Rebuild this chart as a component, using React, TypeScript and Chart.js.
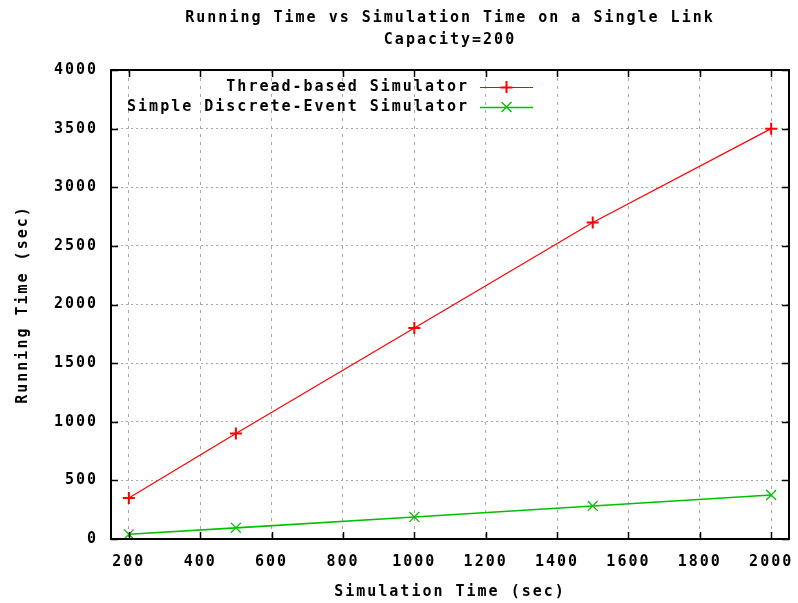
import React, { useEffect, useRef } from "react";
import { Chart, registerables } from "chart.js";

Chart.register(...registerables);

const simTimes = [200, 500, 1000, 1500, 2000];
const threadBased = [350, 900, 1800, 2700, 3500];
const simpleDES = [40, 95, 188, 282, 375];
const xTickValues = [200, 400, 600, 800, 1000, 1200, 1400, 1600, 1800, 2000];
const yTickValues = [0, 500, 1000, 1500, 2000, 2500, 3000, 3500, 4000];
const titleLines = ["Running Time vs Simulation Time on a Single Link", "Capacity=200"];
const xTitle = "Simulation Time (sec)";
const yTitle = "Running Time (sec)";
const seriesLabels = ["Thread-based Simulator", "Simple Discrete-Event Simulator"];
const seriesColors = ["#ff0000", "#00c000"];

const FONT_FAMILY = "'DejaVu Sans Mono', 'Liberation Mono', monospace";
const FONT = "bold 15px " + FONT_FAMILY;
const SPACING = "2px";

const gnuplotPlugin = {
  id: "gnuplotDecor",
  beforeDraw(chart: any) {
    (chart.ctx as any).letterSpacing = SPACING;
  },
  afterDraw(chart: any) {
    const ctx = chart.ctx as CanvasRenderingContext2D;
    const area = chart.chartArea;
    const xs = chart.scales.x;
    const ys = chart.scales.y;
    ctx.save();
    (ctx as any).letterSpacing = SPACING;
    ctx.setLineDash([]);
    // inward ticks + mirror
    ctx.strokeStyle = "#000";
    ctx.lineWidth = 1.5;
    ctx.beginPath();
    const tl = 7;
    xTickValues.forEach((v) => {
      const px = Math.round(xs.getPixelForValue(v)) + 0.5;
      ctx.moveTo(px, area.bottom);
      ctx.lineTo(px, area.bottom - tl);
      ctx.moveTo(px, area.top);
      ctx.lineTo(px, area.top + tl);
    });
    yTickValues.forEach((v) => {
      const py = Math.round(ys.getPixelForValue(v)) + 0.5;
      ctx.moveTo(area.left, py);
      ctx.lineTo(area.left + tl, py);
      ctx.moveTo(area.right, py);
      ctx.lineTo(area.right - tl, py);
    });
    ctx.stroke();
    // border
    ctx.lineWidth = 2;
    ctx.strokeRect(area.left, area.top, area.right - area.left, area.bottom - area.top);

    ctx.fillStyle = "#000";
    ctx.font = FONT;
    ctx.textBaseline = "middle";
    // title
    ctx.textAlign = "center";
    const cx = (area.left + area.right) / 2;
    ctx.fillText(titleLines[0], cx, 18);
    ctx.fillText(titleLines[1], cx, 40);
    // x title
    ctx.fillText(xTitle, cx, 592);
    // y title
    ctx.save();
    ctx.translate(23, (area.top + area.bottom) / 2);
    ctx.rotate(-Math.PI / 2);
    ctx.fillText(yTitle, 0, 0);
    ctx.restore();

    // legend
    const rows = [87, 107];
    const widths = [1, 1.6];
    seriesLabels.forEach((label, i) => {
      const y = rows[i];
      ctx.textAlign = "right";
      ctx.fillStyle = "#000";
      ctx.fillText(label, 469, y);
      ctx.strokeStyle = seriesColors[i];
      ctx.lineWidth = widths[i];
      ctx.beginPath();
      ctx.moveTo(480, y + 0.5);
      ctx.lineTo(533, y + 0.5);
      ctx.stroke();
      const mx = 506.5;
      ctx.beginPath();
      if (i === 0) {
        const r = 6;
        ctx.lineWidth = 2;
        ctx.moveTo(mx - r, y + 0.5);
        ctx.lineTo(mx + r, y + 0.5);
        ctx.moveTo(mx, y - r);
        ctx.lineTo(mx, y + r);
      } else {
        const d = 7 * 0.7071;
        ctx.lineWidth = 1.3;
        ctx.moveTo(mx - d, y - d);
        ctx.lineTo(mx + d, y + d);
        ctx.moveTo(mx - d, y + d);
        ctx.lineTo(mx + d, y - d);
      }
      ctx.stroke();
    });
    ctx.restore();
  },
};

export default function App() {
  const ref = useRef<HTMLCanvasElement | null>(null);
  useEffect(() => {
    if (!ref.current) return;
    const chart = new Chart(ref.current, {
      type: "line",
      data: {
        datasets: [
          {
            label: seriesLabels[0],
            data: simTimes.map((x, i) => ({ x, y: threadBased[i] })),
            borderColor: seriesColors[0],
            backgroundColor: seriesColors[0],
            borderWidth: 1.2,
            pointStyle: "cross",
            pointRadius: 6,
            pointBorderWidth: 2,
            pointBorderColor: seriesColors[0],
            fill: false,
            tension: 0,
          },
          {
            label: seriesLabels[1],
            data: simTimes.map((x, i) => ({ x, y: simpleDES[i] })),
            borderColor: seriesColors[1],
            backgroundColor: seriesColors[1],
            borderWidth: 1.6,
            pointStyle: "crossRot",
            pointRadius: 7,
            pointBorderWidth: 1.3,
            pointBorderColor: seriesColors[1],
            fill: false,
            tension: 0,
          },
        ],
      },
      options: {
        animation: false,
        responsive: false,
        maintainAspectRatio: false,
        layout: { padding: { left: 0, top: 70, right: 9, bottom: 0 } },
        plugins: {
          legend: { display: false },
          title: { display: false },
          tooltip: { enabled: false },
        },
        scales: {
          x: {
            type: "linear",
            min: 150,
            max: 2050,
            afterBuildTicks: (scale: any) => {
              scale.ticks = xTickValues.map((v) => ({ value: v }));
            },
            afterFit: (scale: any) => {
              scale.height = 64;
              scale.paddingRight = 0;
              scale.paddingLeft = 0;
            },
            border: { display: false, dash: [3, 5] },
            grid: {
              drawTicks: false,
              color: "#a8a8a8",
              lineWidth: 1,
            },
            ticks: {
              padding: 14,
              color: "#000",
              font: { family: FONT_FAMILY, size: 15, weight: "bold" },
              maxRotation: 0,
              autoSkip: false,
              callback: (v: any) => String(v),
            },
          },
          y: {
            type: "linear",
            min: 0,
            max: 4000,
            afterBuildTicks: (scale: any) => {
              scale.ticks = yTickValues.map((v) => ({ value: v }));
            },
            afterFit: (scale: any) => {
              scale.width = 111;
            },
            border: { display: false, dash: [2, 3] },
            grid: {
              drawTicks: false,
              color: "#a8a8a8",
              lineWidth: 1,
            },
            ticks: {
              padding: 13,
              color: "#000",
              font: { family: FONT_FAMILY, size: 15, weight: "bold" },
              autoSkip: false,
              callback: (v: any) => String(v),
            },
          },
        },
      },
      plugins: [gnuplotPlugin],
    });
    return () => chart.destroy();
  }, []);
  return (
    <div style={{ position: "fixed", left: 0, top: 0, width: 798, height: 603, background: "#fff" }}>
      <canvas ref={ref} width={798} height={603} style={{ display: "block" }} />
    </div>
  );
}
